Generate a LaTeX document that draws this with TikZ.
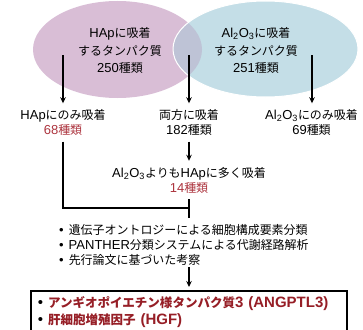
\documentclass[tikz,border=0pt]{standalone}
\usepackage{fontspec}
\setmainfont{Liberation Sans}
\newfontfamily\jpfont[Scale=0.92]{Noto Sans CJK JP}
\newcommand\jtxt[1]{{\jpfont #1}}
\newcommand\jbox[1]{{\fontsize{13.6}{17}\selectfont\jpfont #1}}
\usetikzlibrary{shapes.geometric,arrows.meta}
\definecolor{hapfill}{RGB}{217,190,214}
\definecolor{alfill}{RGB}{196,222,231}
\definecolor{bothfill}{RGB}{190,195,214}
\definecolor{numred}{RGB}{172,52,62}
\definecolor{boxred}{RGB}{150,30,38}

\begin{document}
\begin{tikzpicture}[x=1pt, y=-1pt,
  venn/.style={align=center, font=\fontsize{13}{17.5}\selectfont},
  lbl/.style={align=center, font=\fontsize{13}{15}\selectfont, inner xsep=1pt, inner ysep=6pt},
  line/.style={line width=1.3pt},
  arr/.style={line, -{Stealth[length=6pt, width=5.5pt]}}]
  \clip (0,0) rectangle (363,329);
  \node[ellipse, fill=hapfill, minimum width=169, minimum height=97, inner sep=0] (hap) at (117.5,49.5) {};
  \node[ellipse, fill=alfill, minimum width=185, minimum height=96, inner sep=0] (al) at (265.5,49) {};
  \begin{scope}
    \clip (hap.center) ellipse [x radius=84.5, y radius=48.5];
    \fill[bothfill] (al.center) ellipse [x radius=92.5, y radius=48];
  \end{scope}
  \draw[white, line width=1pt] (al.center) ellipse [x radius=92.5, y radius=48];
  \node[venn] (haptext) at (120,50.5) {HAp\jtxt{に吸着}\\\jtxt{するタンパク質}\\250\jtxt{種類}};
  \node[venn] (altext) at (256,50.5) {Al\textsubscript{2}O\textsubscript{3}\jtxt{に吸着}\\\jtxt{するタンパク質}\\251\jtxt{種類}};
  \node[lbl] (onlyhap) at (63,122.5) {HAp\jtxt{にのみ吸着}\\\textcolor{numred}{68\jtxt{種類}}};
  \node[lbl] (both) at (189,122.5) {\jtxt{両方に吸着}\\182\jtxt{種類}};
  \node[lbl] (onlyal) at (311.5,122.5) {Al\textsubscript{2}O\textsubscript{3}\jtxt{にのみ吸着}\\69\jtxt{種類}};
  \node[lbl] (more) at (189,180) {Al\textsubscript{2}O\textsubscript{3}\jtxt{よりも}HAp\jtxt{に多く吸着}\\\textcolor{numred}{14\jtxt{種類}}};
  \coordinate (hapout) at (63,55);
  \coordinate (bothout) at (189,55);
  \coordinate (alout) at (312,55);
  \coordinate (join) at (189,208);
  \coordinate (stub) at (189,217.5);
  \draw[arr] (hapout) -- (hapout |- onlyhap.north);
  \draw[arr] (bothout) -- (bothout |- both.north);
  \draw[arr] (alout) -- (alout |- onlyal.north);
  \draw[arr] (both) -- (more);
  \draw[line] (onlyhap) |- (join);
  \draw[line] (more) -- (stub);
  \node[anchor=north west, align=left, font=\fontsize{13}{15}\selectfont, inner xsep=2pt, inner ysep=2pt] (methods) at (57,222)
    {•\hspace{5pt}\jtxt{遺伝子オントロジーによる細胞構成要素分類}\\
     •\hspace{5pt}PANTHER\jtxt{分類システムによる代謝経路解析}\\
     •\hspace{5pt}\jtxt{先行論文に基づいた考察}};
  \node[anchor=north west, draw, line width=1.5pt, text width=308pt, inner xsep=4pt, inner ysep=6pt, align=left,
    text=boxred, font=\bfseries\fontsize{15}{17}\selectfont] (result) at (30,290)
    {\hspace*{3pt}{\mdseries\color{black}•}~\jbox{アンギオポイエチン様タンパク質}3~(ANGPTL3)\\
     \hspace*{3pt}{\mdseries\color{black}•}~\jbox{肝細胞増殖因子}~(HGF)};
  \draw[arr, shorten >=3pt] (methods.south -| stub) -- (result.north -| stub);
\end{tikzpicture}
\end{document}
